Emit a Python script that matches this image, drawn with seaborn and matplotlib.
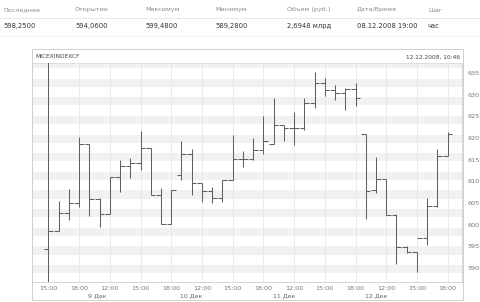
import numpy as np
import pandas as pd
import matplotlib
matplotlib.use("Agg")
import matplotlib.pyplot as plt
import seaborn as sns
from matplotlib.patches import Rectangle
from matplotlib.lines import Line2D
import matplotlib.transforms as mtransforms

# ---------------- data ----------------
days = [8, 8, 8, 8,
        9, 9, 9, 9, 9, 9, 9, 9, 9,
        10, 10, 10, 10, 10, 10, 10, 10, 10,
        11, 11, 11, 11, 11, 11, 11, 11, 11,
        12, 12, 12, 12, 12, 12, 12, 12, 12]
hours = [15, 16, 17, 18,
         10, 11, 12, 13, 14, 15, 16, 17, 18,
         10, 11, 12, 13, 14, 15, 16, 17, 18,
         10, 11, 12, 13, 14, 15, 16, 17, 18,
         10, 11, 12, 13, 14, 15, 16, 17, 18]
opens = [594.4, 598.5, 602.7, 605.0,
         618.6, 605.9, 602.5, 610.9, 613.5, 614.2, 617.6, 606.8, 600.1,
         611.5, 616.3, 609.6, 607.8, 606.1, 610.3, 615.2, 615.2, 617.2,
         618.6, 622.9, 622.3, 622.2, 628.1, 632.7, 631.1, 630.4, 631.3,
         620.9, 607.9, 610.6, 602.2, 594.9, 593.8, 596.9, 604.4, 615.9]
highs = [638.0, 605.5, 608.2, 620.2,
         618.6, 606.1, 611.1, 614.9, 615.5, 621.6, 617.6, 608.4, 608.0,
         619.2, 617.4, 609.6, 608.8, 610.3, 620.6, 617.1, 620.0, 625.1,
         629.2, 623.0, 626.1, 629.2, 635.3, 633.8, 632.3, 631.5, 632.7,
         620.9, 615.7, 610.6, 602.4, 595.1, 593.8, 606.1, 617.4, 621.3]
lows = [586.0, 598.5, 601.2, 604.0,
        602.0, 599.4, 602.5, 607.6, 610.7, 612.6, 606.8, 600.1, 600.1,
        610.3, 606.8, 605.3, 605.1, 605.3, 610.3, 613.4, 615.0, 616.3,
        618.6, 619.2, 618.4, 621.9, 626.9, 629.6, 628.7, 626.5, 627.4,
        601.3, 607.3, 602.2, 590.9, 593.4, 589.2, 595.3, 604.0, 615.9]
closes = [598.5, 602.7, 605.0, 618.6,
          605.9, 602.5, 610.9, 613.5, 614.2, 617.6, 606.8, 600.1, 608.0,
          616.3, 609.6, 607.8, 606.1, 610.3, 615.2, 615.2, 617.2, 619.2,
          622.9, 622.3, 622.2, 628.1, 632.7, 631.1, 630.4, 631.3, 629.2,
          607.8, 610.6, 602.2, 594.9, 593.8, 596.9, 604.4, 615.9, 620.9]

y_ticks = [590, 595, 600, 605, 610, 615, 620, 625, 630, 635]
tick_hours = [12, 15, 18]
month_label = "Дек"

header_labels = ["Последнее", "Открытие", "Максимум", "Минимум",
                 "Объем (руб.)", "Дата/Время", "Шаг"]
header_values = ["598,2500", "594,0600", "599,4800", "589,2800",
                 "2,6948 млрд", "08.12.2008 19:00", "час"]
chart_title = "MICEXINDEXCF"
chart_stamp = "12.12.2008, 10:46"

# ---------------- style ----------------
sns.set_theme(style="white")
plt.rcParams["font.family"] = ["DejaVu Sans"]

df = pd.DataFrame({"day": days, "hour": hours, "open": opens,
                   "high": highs, "low": lows, "close": closes})
df["pos"] = np.arange(len(df))

W, H = 480, 302
fig = plt.figure(figsize=(W / 100, H / 100), dpi=100)
fig.patch.set_facecolor("white")

def fx(px):
    return px / W

def fy(py):
    return (H - py) / H

# header table
col_x = [3, 75, 145, 215, 287, 357, 428]
for x, lab, val in zip(col_x, header_labels, header_values):
    fig.text(fx(x), fy(10), lab, fontsize=4.6, color="#8a8a8a", va="center", ha="left")
    fig.text(fx(x), fy(26), val, fontsize=4.9, color="#333333", va="center", ha="left")
fig.add_artist(Line2D([0, 1], [fy(17.5), fy(17.5)], transform=fig.transFigure,
                      color="#e4e4e4", lw=0.6))
fig.add_artist(Line2D([0, 1], [fy(35.5), fy(35.5)], transform=fig.transFigure,
                      color="#f0f0f0", lw=0.5))

# chart panel
fig.add_artist(Rectangle((fx(32), fy(300)), fx(463) - fx(32), fy(49) - fy(300),
                         transform=fig.transFigure, fill=False,
                         edgecolor="#d0d0d0", lw=0.7))
fig.text(fx(35), fy(57), chart_title, fontsize=4.2, color="#444444",
         va="center", ha="left")
fig.text(fx(460), fy(57), chart_stamp, fontsize=4.2, color="#444444",
         va="center", ha="right")

# plot area
ax = fig.add_axes([fx(32), fy(282), fx(462) - fx(32), fy(63) - fy(282)])
ymin, ymax = 586.8, 637.3
ax.set_ylim(ymin, ymax)
ax.set_xlim(-1.6, len(df) + 0.4)
ax.set_facecolor("white")

# alternating background bands
for b in np.arange(588.8, ymax + 5, 4.3):
    ax.axhspan(b, b + 1.9, color="#f1f1f1", lw=0, zorder=0)

# x ticks at 12:00 / 15:00 / 18:00
tick_df = df[df["hour"].isin(tick_hours)]
ax.set_xticks(tick_df["pos"])
ax.set_xticklabels([f"{h}:00" for h in tick_df["hour"]])
ax.grid(axis="x", color="#e6e6e6", lw=0.6, zorder=0.5)
ax.grid(axis="y", visible=False)

# day labels
trans = mtransforms.blended_transform_factory(ax.transData, ax.transAxes)
first_of_day = df.groupby("day")["pos"].min()
for d, p in first_of_day.items():
    if d == df["day"].iloc[0]:
        continue
    ax.text(p - 0.1, -0.052, f"{d} {month_label}", transform=trans,
            fontsize=4.5, color="#666666", ha="left", va="top")

# y axis on right
ax.yaxis.tick_right()
ax.set_yticks(y_ticks)
ax.set_yticklabels([str(v) for v in y_ticks])
ax.tick_params(axis="y", length=0, pad=4, labelsize=4.6, labelcolor="#777777")
ax.tick_params(axis="x", length=0, pad=3, labelsize=4.6, labelcolor="#777777")

ax.spines["left"].set_visible(False)
ax.spines["right"].set_color("#cfcfcf")
ax.spines["bottom"].set_color("#cfcfcf")
ax.spines["top"].set_color("#dcdcdc")
for s in ["right", "bottom", "top"]:
    ax.spines[s].set_linewidth(0.6)

# OHLC bars
bar_color = "#606060"
tw = 0.45
ax.vlines(df["pos"], df["low"], df["high"], color=bar_color, lw=0.75, zorder=3)
ax.hlines(df["open"], df["pos"] - tw, df["pos"], color=bar_color, lw=0.75, zorder=3)
ax.hlines(df["close"], df["pos"], df["pos"] + tw, color=bar_color, lw=0.75, zorder=3)

fig.savefig("out.png", dpi=100, facecolor="white")
